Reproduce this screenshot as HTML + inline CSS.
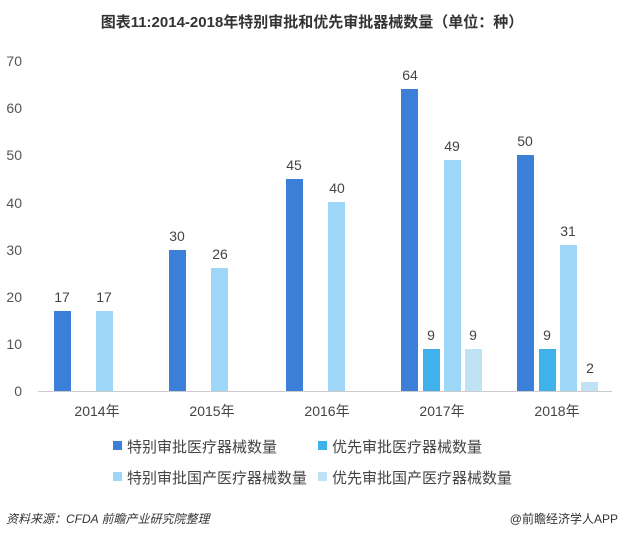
<!DOCTYPE html><html><head><meta charset="utf-8"><style>body{margin:0;background:#fff}svg text{font-family:"Liberation Sans","Noto Sans CJK SC",sans-serif}</style></head><body>
<svg width="624" height="537" xmlns="http://www.w3.org/2000/svg">
<text x="312" y="27" text-anchor="middle" font-size="15" font-weight="bold" fill="#333">图表11:2014-2018年特别审批和优先审批器械数量（单位：种）</text>
<g font-size="14" fill="#555" text-anchor="end">
<text x="22" y="396">0</text><text x="22" y="349">10</text><text x="22" y="302">20</text><text x="22" y="255">30</text><text x="22" y="208">40</text><text x="22" y="160">50</text><text x="22" y="113">60</text><text x="22" y="66">70</text></g>
<line x1="38" y1="391.5" x2="612" y2="391.5" stroke="#ccc"/>
<g>
<rect x="54" y="311" width="17" height="80" fill="#3b7fd9"/><rect x="96" y="311" width="17" height="80" fill="#9dd6f7"/>
<rect x="169" y="250" width="17" height="141" fill="#3b7fd9"/><rect x="211" y="268" width="17" height="123" fill="#9dd6f7"/>
<rect x="286" y="179" width="17" height="212" fill="#3b7fd9"/><rect x="328" y="202" width="17" height="189" fill="#9dd6f7"/>
<rect x="401" y="89" width="17" height="302" fill="#3b7fd9"/><rect x="423" y="349" width="17" height="42" fill="#3fb2ec"/><rect x="444" y="160" width="17" height="231" fill="#9dd6f7"/><rect x="465" y="349" width="17" height="42" fill="#bfe3f5"/>
<rect x="517" y="155" width="17" height="236" fill="#3b7fd9"/><rect x="539" y="349" width="17" height="42" fill="#3fb2ec"/><rect x="560" y="245" width="17" height="146" fill="#9dd6f7"/><rect x="581" y="382" width="17" height="9" fill="#bfe3f5"/>
</g>
<g font-size="14" fill="#444" text-anchor="middle">
<text x="62" y="302">17</text><text x="104" y="302">17</text>
<text x="177" y="241">30</text><text x="220" y="259">26</text>
<text x="294" y="170">45</text><text x="337" y="193">40</text>
<text x="410" y="80">64</text><text x="431" y="340">9</text><text x="452" y="151">49</text><text x="473" y="340">9</text>
<text x="525" y="146">50</text><text x="547" y="340">9</text><text x="568" y="236">31</text><text x="590" y="373">2</text>
</g>
<g font-size="14" fill="#444" text-anchor="middle">
<text x="97" y="416">2014年</text><text x="212" y="416">2015年</text><text x="327" y="416">2016年</text><text x="442" y="416">2017年</text><text x="557" y="416">2018年</text></g>
<g font-size="15" fill="#444">
<rect x="113" y="441" width="9" height="9" fill="#3b7fd9"/><text x="127" y="452">特别审批医疗器械数量</text>
<rect x="318" y="441" width="9" height="9" fill="#3fb2ec"/><text x="332" y="452">优先审批医疗器械数量</text>
<rect x="113" y="472" width="9" height="9" fill="#9dd6f7"/><text x="127" y="483">特别审批国产医疗器械数量</text>
<rect x="318" y="472" width="9" height="9" fill="#bfe3f5"/><text x="332" y="483">优先审批国产医疗器械数量</text></g>
<text x="6" y="523" font-size="12" fill="#333" font-style="italic">资料来源：CFDA  前瞻产业研究院整理</text>
<text x="618" y="523" font-size="12" fill="#333" text-anchor="end">@前瞻经济学人APP</text>
</svg></body></html>
